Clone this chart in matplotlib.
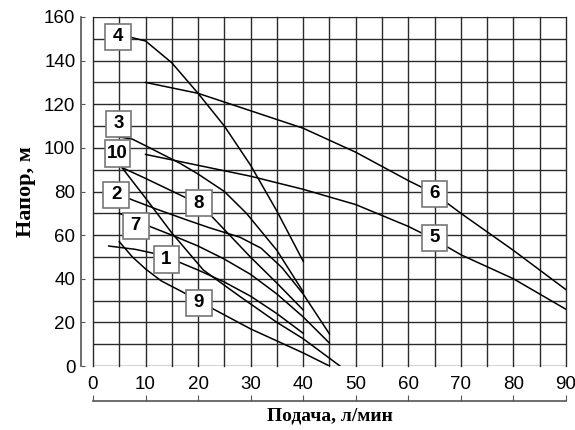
import matplotlib.pyplot as plt
from matplotlib.patches import Rectangle
from matplotlib.ticker import MultipleLocator

# характеристики насосов: подача (л/мин) -> напор (м)
q1 = [3, 8, 11.5, 16.5, 20, 25, 30, 35, 40]
h1 = [55, 53.5, 51.7, 47.5, 44, 38.5, 32, 24, 15]

q2 = [5, 7, 12, 17.8, 22, 28, 32, 36, 40, 45]
h2 = [78, 76.6, 72, 67, 63.5, 59, 54, 45, 33, 14.7]

q3 = [5, 7.5, 10, 16.5, 20, 25, 29.2, 35, 40]
h3 = [105, 104, 101, 93, 88, 80, 70, 53, 34]

q4 = [5, 10, 15, 20, 25, 30, 35, 40]
h4 = [152, 149, 139, 125, 110, 92, 71, 48]

q5 = [10, 20, 30, 40, 50, 60, 65, 70, 80, 90]
h5 = [97, 92, 87, 81, 74, 64, 58, 51, 40, 26]

q6 = [10, 20, 30, 40, 50, 60, 65, 70, 80, 90]
h6 = [130, 125, 117, 109, 98, 85, 79, 70, 53, 35]

q7 = [5, 8, 10.8, 15, 20, 25, 30, 35, 40, 45]
h7 = [70, 67, 64, 60, 55, 49, 42, 33, 22.5, 10.5]

q8 = [5.5, 10, 17.8, 22.6, 26, 29.9, 35, 40]
h8 = [91, 86, 77, 68.6, 60, 50.1, 38, 25.7]

q9 = [5, 7.5, 10, 13, 17, 23, 30, 35, 40, 45]
h9 = [57, 50, 44.5, 39, 34, 26, 17, 11.5, 6, 0]

q10 = [5.5, 10, 15, 21, 28, 35, 40, 47]
h10 = [91, 77, 61, 44, 31.8, 20, 12.5, 0]

curves = [(q1, h1), (q2, h2), (q3, h3), (q4, h4), (q5, h5),
          (q6, h6), (q7, h7), (q8, h8), (q9, h9), (q10, h10)]

# где стоят номера кривых
label_names = ['1', '2', '3', '4', '5', '6', '7', '8', '9', '10']
label_q = [14, 4.4, 4.85, 4.75, 65, 65, 8.15, 20.15, 20.15, 4.65]
label_h = [48.8, 78.4, 111, 151, 58.8, 78.9, 64.2, 74.6, 28.9, 97.4]

fig = plt.figure(figsize=(5.75, 4.3), dpi=100)
ax = fig.add_axes([0.1617, 0.1488, 0.8226, 0.8117])
ax.set_xlim(0, 90)
ax.set_ylim(0, 160)

ax.xaxis.set_major_locator(MultipleLocator(10))
ax.xaxis.set_minor_locator(MultipleLocator(5))
ax.yaxis.set_major_locator(MultipleLocator(20))
ax.yaxis.set_minor_locator(MultipleLocator(10))
ax.grid(which='both', color='#2a2a2a', lw=1.0)
for t in ax.xaxis.get_major_ticks() + ax.xaxis.get_minor_ticks() + \
        ax.yaxis.get_major_ticks() + ax.yaxis.get_minor_ticks():
    t.gridline.set_clip_on(False)

for q, h in curves:
    ax.plot(q, h, color='black', lw=1.1, zorder=3)

bw, bh = 4.9, 12
for name, x, y in zip(label_names, label_q, label_h):
    ax.add_patch(Rectangle((x - bw / 2, y - bh / 2), bw, bh, facecolor='white',
                           edgecolor='#777777', lw=1.2, zorder=4))
    ax.text(x, y, name, ha='center', va='center', fontsize=13.5,
            fontweight='bold', family='Liberation Sans', zorder=5)

for s in ['top', 'right', 'bottom']:
    ax.spines[s].set_visible(False)
ax.spines['left'].set_position(('outward', 8.6))
ax.spines['left'].set_color('#555555')
ax.spines['left'].set_linewidth(1.2)

ax.tick_params(axis='y', which='major', direction='in', length=3,
               color='#555555', pad=4, labelsize=13.5)
ax.tick_params(axis='y', which='minor', length=0)
ax.tick_params(axis='x', which='both', length=0, pad=7, labelsize=13.5)
for lab in ax.get_xticklabels() + ax.get_yticklabels():
    lab.set_family('Liberation Sans')

sec = ax.secondary_xaxis(-0.1003)
sec.xaxis.set_major_locator(MultipleLocator(10))
sec.tick_params(direction='in', length=4, labelbottom=False, color='#555555')
sec.spines['bottom'].set_color('#555555')
sec.spines['bottom'].set_linewidth(1.2)
sec.set_xlabel('Подача, л/мин', family='Liberation Serif', fontweight='bold',
               fontsize=14, labelpad=5)

ax.set_ylabel('Напор, м', family='Liberation Serif', fontweight='bold',
              fontsize=16, labelpad=6)

fig.savefig('out.png', dpi=100)
